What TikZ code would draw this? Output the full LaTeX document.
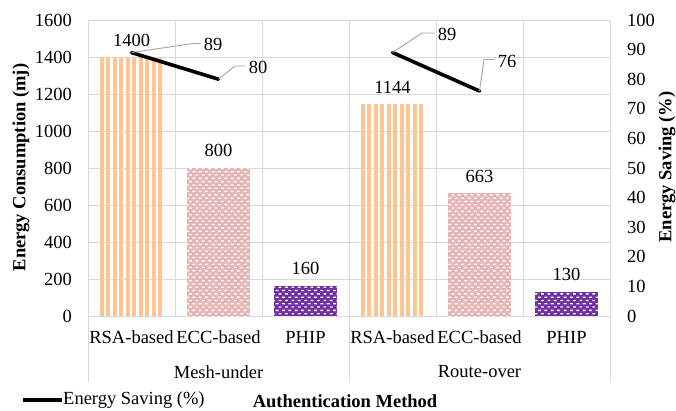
\documentclass[tikz,border=0pt]{standalone}
\usepackage{fontspec}
\setmainfont{Liberation Serif}
\usetikzlibrary{patterns}

\definecolor{gridgray}{RGB}{217,217,217}
\definecolor{leadergray}{RGB}{166,166,166}
\definecolor{rsaorange}{RGB}{255,196,145}
\definecolor{eccpink}{RGB}{230,182,182}
\definecolor{phippurple}{RGB}{112,48,160}

% small white dashes laid out like bricks
\pgfdeclarepatternformonly{dashbrick}{\pgfqpoint{-0.5pt}{-0.5pt}}{\pgfqpoint{7pt}{7pt}}{\pgfqpoint{6.4pt}{6.6pt}}{%
  \pgfpathrectangle{\pgfqpoint{0.3pt}{0pt}}{\pgfqpoint{3pt}{1.3pt}}%
  \pgfpathrectangle{\pgfqpoint{3.5pt}{3.3pt}}{\pgfqpoint{2.7pt}{1.3pt}}%
  \pgfusepath{fill}}

\tikzset{
  grid/.style={draw=gridgray, line width=1pt},
  saving/.style={draw=black, line width=3.6pt, line cap=round},
  leader/.style={draw=leadergray, line width=0.9pt},
  lbl/.style={inner sep=0pt},
  axtitle/.style={inner sep=0pt, font=\fontsize{18.5}{22}\selectfont\bfseries},
  eccbar/.style={fill=eccpink, postaction={pattern=dashbrick, pattern color=white}},
  phipbar/.style={fill=phippurple, postaction={pattern=dashbrick, pattern color=white}},
}

\begin{document}
\begin{tikzpicture}[x=1pt, y=-1pt, font=\fontsize{18.5}{22}\selectfont]
\useasboundingbox[fill=white] (0,0) rectangle (676,410);

% horizontal gridlines (every 200 mJ)
\foreach \k in {0,...,8}
  \draw[grid] (88,{316-37*\k}) -- (610,{316-37*\k});
% vertical gridlines, group separators run down through the category labels
\foreach \k in {1,2,4,5}
  \draw[grid] ({88+87*\k},20) -- ({88+87*\k},316);
\foreach \k in {0,3,6}
  \draw[grid] ({88+87*\k},20) -- ({88+87*\k},382);

% RSA-based bars: vertical stripes
\foreach \c/\v in {131.5/1400, 392.5/1144}
  \foreach \k in {0,...,9}
    \fill[rsaorange] ({\c-31.5+6.45*\k},316) rectangle ({\c-27.5+6.45*\k},{316-\v*0.185});

% ECC-based and PHIP bars
\path[eccbar]  (187,316) rectangle (250,{316-800*0.185});
\path[eccbar]  (448,316) rectangle (511,{316-663*0.185});
\path[phipbar] (274,316) rectangle (337,{316-160*0.185});
\path[phipbar] (535,316) rectangle (598,{316-130*0.185});

% bar value labels
\node[lbl] (b1) at (131.5,40)  {1400};
\node[lbl] (b2) at (218.5,150) {800};
\node[lbl] (b3) at (305.5,268) {160};
\node[lbl] (b4) at (392.5,87)  {1144};
\node[lbl] (b5) at (479.5,176) {663};
\node[lbl] (b6) at (566.5,274) {130};

% energy saving series (secondary axis, 0-100)
\coordinate (s1a) at (131.5,{316-89*2.96});
\coordinate (s1b) at (218.5,{316-80*2.96});
\coordinate (s2a) at (392.5,{316-89*2.96});
\coordinate (s2b) at (479.5,{316-76*2.96});
\draw[saving] (s1a) -- (s1b);
\draw[saving] (s2a) -- (s2b);

% saving labels with leader lines
\node[lbl] (p1) at (213,44) {89};
\node[lbl] (p2) at (258,67) {80};
\node[lbl] (p3) at (447,34) {89};
\node[lbl] (p4) at (507,61) {76};
\coordinate (k1) at (193,43.5);
\coordinate (k2) at (235,66);
\coordinate (k3) at (422,33);
\coordinate (k4) at (484,59.5);
\draw[leader] (s1a) -- (k1) -- ([xshift=-3pt]p1.west |- k1);
\draw[leader] (s1b) -- (k2) -- ([xshift=-3pt]p2.west |- k2);
\draw[leader] (s2a) -- (k3) -- ([xshift=-3pt]p3.west |- k3);
\draw[leader] (s2b) -- (k4) -- ([xshift=-3pt]p4.west |- k4);

% left axis labels
\foreach \k in {0,...,8}{
  \pgfmathtruncatemacro\lab{200*\k}
  \node[lbl, anchor=east] (ly\k) at (72,{316-37*\k}) {\lab};
}
% right axis labels
\foreach \k in {0,...,10}{
  \pgfmathtruncatemacro\lab{10*\k}
  \node[lbl, anchor=west] (ry\k) at (627,{316-29.6*\k}) {\lab};
}

% category labels
\foreach \i/\t in {0/RSA-based, 1/ECC-based, 2/PHIP, 3/RSA-based, 4/ECC-based, 5/PHIP}
  \node[lbl] (c\i) at ({131.5+87*\i},337) {\t};
\node[lbl] (g1) at (218.5,372) {Mesh-under};
\node[lbl] (g2) at (479.5,372) {Route-over};

% axis titles
\node[axtitle, rotate=90] (ytl) at (21,167.5) {Energy Consumption (mj)};
\node[axtitle, rotate=90] (ytr) at (667,167) {Energy Saving (\%)};
\node[axtitle] (xt) at (345,401) {Authentication Method};

% legend
\coordinate (lg1) at (23,400);
\coordinate (lg2) at (62,400);
\draw[saving, line cap=butt] (lg1) -- (lg2);
\node[lbl, anchor=west] (lgt) at (63,400) {Energy Saving (\%)};
\end{tikzpicture}
\end{document}
